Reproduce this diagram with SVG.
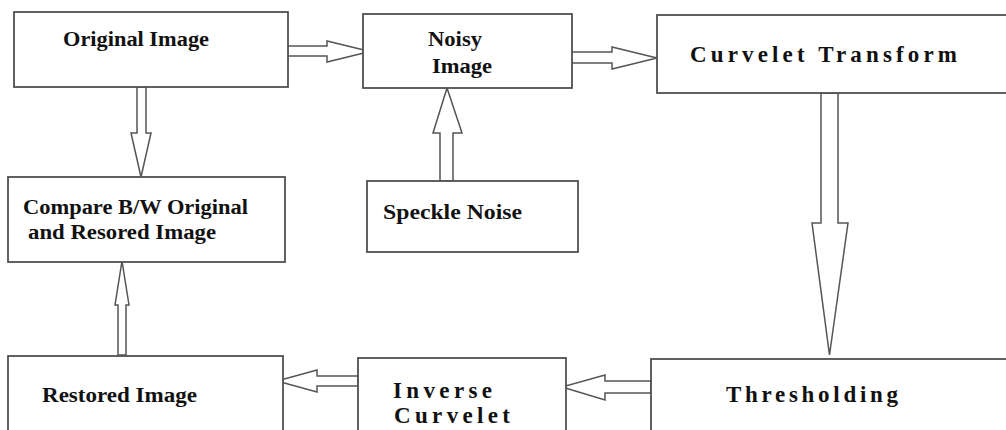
<svg xmlns="http://www.w3.org/2000/svg" width="1006" height="430" viewBox="0 0 1006 430">
<style>
.box{fill:#fff;stroke:#505050;stroke-width:1.8}
.arr{fill:#fff;stroke:#555;stroke-width:1.5;stroke-linejoin:miter}
.t{font-family:"Liberation Serif",serif;font-weight:bold;fill:#111;font-size:20px}
.tl{font-family:"Liberation Serif",serif;font-weight:bold;fill:#111;font-size:23px}
</style>
<rect width="1006" height="430" fill="#fff"/>
<g id="connectors">
<polygon class="arr" points="285,46 327,46 327,41 370,51.5 327,62 327,56 285,56"/>
<polygon class="arr" points="568,52 612,52 612,47 657,58 612,69 612,63 568,63"/>
<polygon class="arr" points="821,93 838,93 838,223 848,223 829.5,355 812,223 821,223"/>
<polygon class="arr" points="137,87 146,87 146,133 151,133 141,177 131,133 137,133"/>
<polygon class="arr" points="440,181 453,181 453,133 462,133 447,88 433,133 440,133"/>
<polygon class="arr" points="118,355 126,355 126,305 129,305 122,261 115,305 118,305"/>
<polygon class="arr" points="358,376 317,376 317,370 277,381 317,392 317,386 358,386"/>
<polygon class="arr" points="651,381 605,381 605,375 562,387 605,400 605,393 651,393"/>
</g>
<g id="original">
<rect class="box" x="14" y="12" width="274" height="75"/>
<text class="t" x="63" y="46" textLength="146" lengthAdjust="spacingAndGlyphs">Original Image</text>
</g>
<g id="noisy">
<rect class="box" x="363" y="14" width="209" height="74"/>
<text class="t" x="428" y="46" textLength="54" lengthAdjust="spacingAndGlyphs">Noisy</text>
<text class="t" x="432" y="73" textLength="60" lengthAdjust="spacingAndGlyphs">Image</text>
</g>
<g id="curvelet">
<rect class="box" x="657" y="15" width="360" height="78"/>
<text class="tl" x="690" y="62" textLength="267" lengthAdjust="spacing">Curvelet Transform</text>
</g>
<g id="compare">
<rect class="box" x="8" y="177" width="277" height="85"/>
<text class="t" x="23" y="214" textLength="225" lengthAdjust="spacingAndGlyphs">Compare B/W Original</text>
<text class="t" x="28" y="239" textLength="188" lengthAdjust="spacingAndGlyphs">and Resored Image</text>
</g>
<g id="speckle">
<rect class="box" x="367" y="181" width="211" height="71"/>
<text class="t" x="383" y="219" textLength="139" lengthAdjust="spacingAndGlyphs">Speckle Noise</text>
</g>
<g id="thresholding">
<rect class="box" x="651" y="359" width="370" height="100"/>
<text class="tl" x="726" y="402" textLength="172" lengthAdjust="spacing">Thresholding</text>
</g>
<g id="inverse">
<rect class="box" x="358" y="358" width="208" height="100"/>
<text class="tl" x="393" y="398" textLength="99" lengthAdjust="spacing">Inverse</text>
<text class="tl" x="394" y="423" textLength="116" lengthAdjust="spacing">Curvelet</text>
</g>
<g id="restored">
<rect class="box" x="8" y="356" width="275" height="100"/>
<text class="t" x="42" y="402" textLength="155" lengthAdjust="spacingAndGlyphs">Restored Image</text>
</g>
</svg>
